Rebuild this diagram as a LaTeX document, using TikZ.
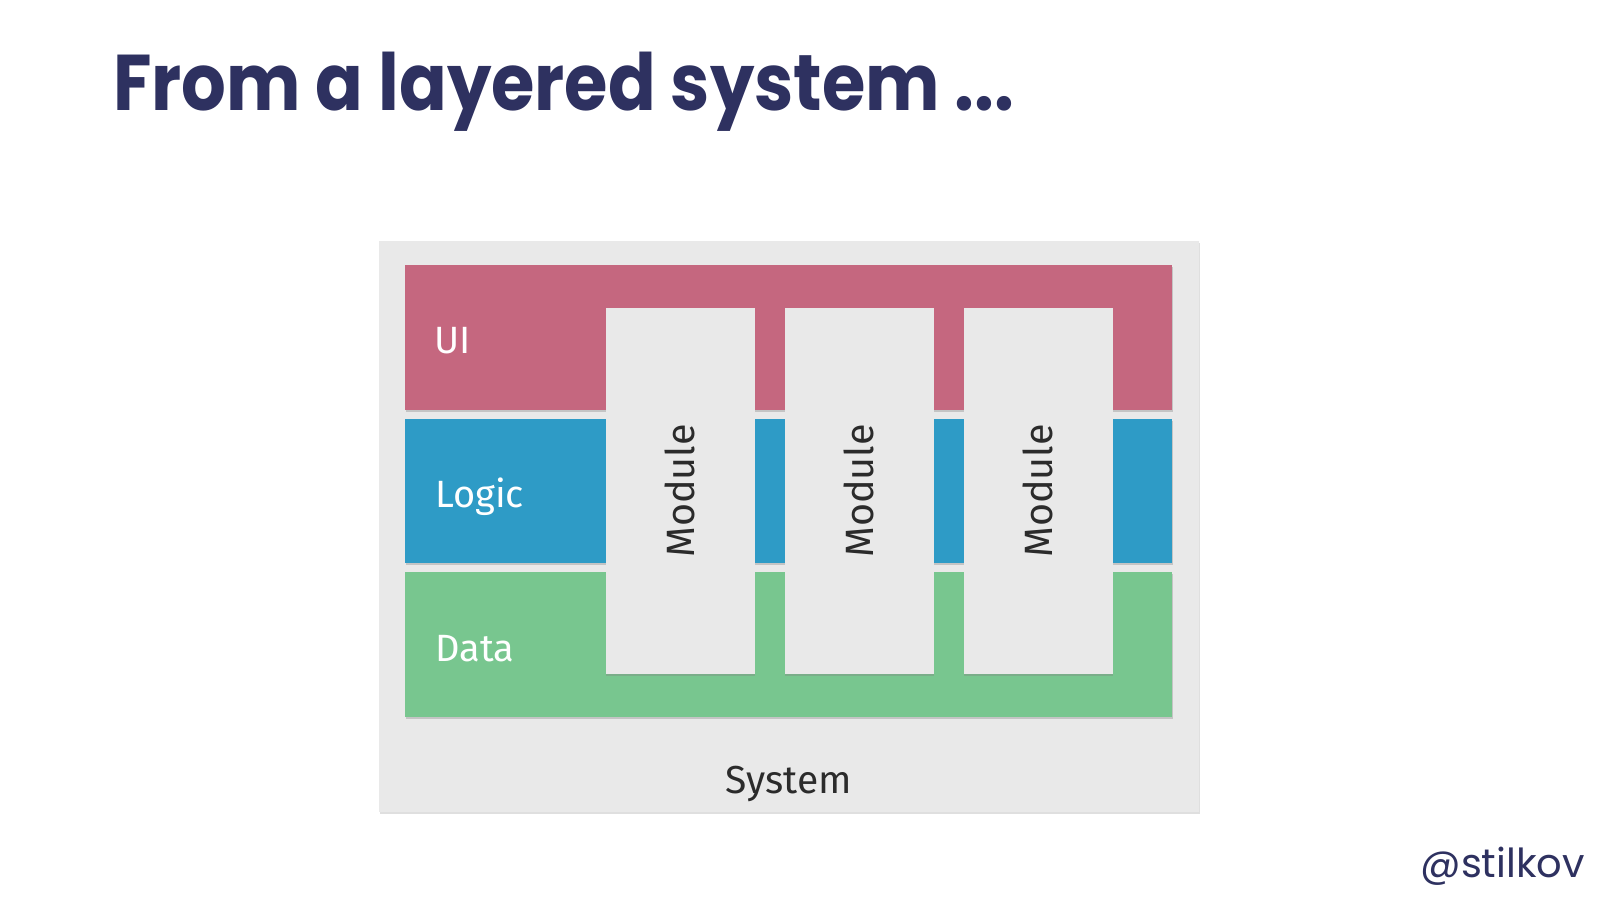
\documentclass[tikz,border=0pt]{standalone}
\usepackage{fontspec}
\setmainfont{Fira Sans}
\newfontfamily\titlefont{Poppins}
\usetikzlibrary{shadows}
\definecolor{navy}{HTML}{2E3160}
\definecolor{sysgray}{HTML}{E9E9E9}
\definecolor{uipink}{HTML}{C5677F}
\definecolor{logicblue}{HTML}{2E9BC6}
\definecolor{datagreen}{HTML}{78C68F}
\definecolor{txtdark}{HTML}{2B2B2B}
\begin{document}
\begin{tikzpicture}[x=1pt,y=-1pt,
  box/.style={rectangle, inner sep=0pt, outer sep=0pt, draw=none},
  softshadow/.style={drop shadow={opacity=0.35, shadow xshift=0.6pt, shadow yshift=-1.6pt}},
  layer/.style={box, softshadow, minimum width=767pt, minimum height=145pt},
  module/.style={box, softshadow, fill=sysgray, minimum width=149pt, minimum height=366pt},
  label/.style={inner sep=0pt, font=\fontsize{38}{46}\selectfont, text=white, anchor=base west},
  modtext/.style={inner sep=0pt, font=\fontsize{39.5}{48}\selectfont, text=txtdark, rotate=90},
]
\useasboundingbox (0,0) rectangle (1600,900);
\fill[white] (0,0) rectangle (1600,900);

% title
\node[inner sep=0pt, anchor=base west, text=navy] (title) at (113,110)
  {\scalebox{0.89}[1]{\titlefont\bfseries\fontsize{79}{90}\selectfont From a layered system ...}};

% system box
\node[box, fill=sysgray, minimum width=820pt, minimum height=571pt,
      drop shadow={opacity=0.25, shadow xshift=1pt, shadow yshift=-1.5pt}] (sys) at (789,526.5) {};

% layers
\node[layer, fill=uipink] (ui) at (788.5,337.5) {};
\node[layer, fill=logicblue, minimum height=144pt] (logic) at (788.5,491) {};
\node[layer, fill=datagreen] (data) at (788.5,644.5) {};

% modules
\node[module] (m1) at (680,491) {};
\node[module] (m2) at (859,491) {};
\node[module] (m3) at (1038,491) {};
\node[modtext] (m1t) at (m1.center) {Module};
\node[modtext] (m2t) at (m2.center) {Module};
\node[modtext] (m3t) at (m3.center) {Module};

% layer labels
\node[label] (uit) at (434,353) {UI};
\node[label] (logict) at (435,507) {Logic};
\node[label] (datat) at (435,661) {Data};

% system label
\node[inner sep=0pt, anchor=base, font=\fontsize{39}{48}\selectfont, text=txtdark] (syst) at (789,793) {System};

% handle
\node[inner sep=0pt, anchor=base east, text=navy, font=\titlefont\fontsize{40}{48}\selectfont] (handle) at (1585,877) {@stilkov};
\end{tikzpicture}
\end{document}
